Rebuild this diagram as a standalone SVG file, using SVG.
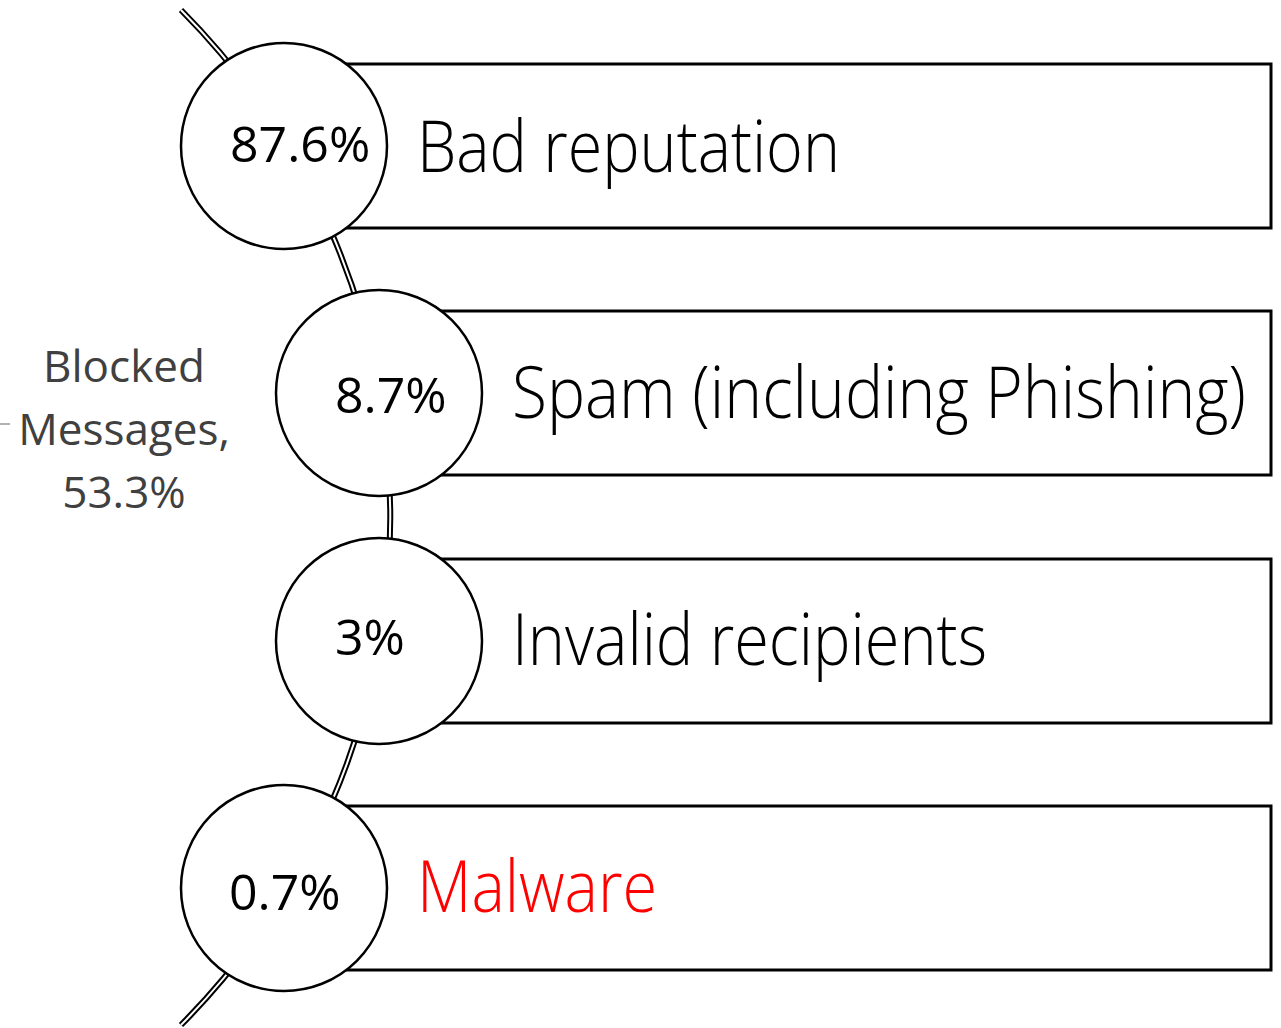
<svg xmlns="http://www.w3.org/2000/svg" width="1281" height="1028" viewBox="0 0 1281 1028">
<style>
.bar{fill:#fff;stroke:#000;stroke-width:3}
.node{fill:#fff;stroke:#000;stroke-width:2.5}
.pct{font-family:"Open Sans","Noto Sans",sans-serif;font-size:50px;fill:#000}
.lbl{font-family:"Open Sans","Noto Sans",sans-serif;font-size:72px;font-weight:300;fill:#000}
.side{font-family:"Open Sans","Noto Sans",sans-serif;font-size:44px;fill:#404040;text-anchor:middle}
</style>
<rect width="1281" height="1028" fill="#fff"/>
<g id="connectors">
<path d="M181,10 A720,720 0 0 1 181,1025" fill="none" stroke="#000" stroke-width="6"/>
<path d="M181,10 A720,720 0 0 1 181,1025" fill="none" stroke="#fff" stroke-width="2"/>
<line x1="0" y1="424" x2="10" y2="424" stroke="#999" stroke-width="1.5"/>
</g>
<g id="side-label">
<text class="side" x="124" y="382">Blocked</text>
<text class="side" x="124" y="445">Messages,</text>
<text class="side" x="124" y="508">53.3%</text>
</g>
<g id="node-bad-reputation">
<rect class="bar" x="284" y="64" width="987" height="164"/>
<circle class="node" cx="284" cy="146" r="103"/>
<text class="pct" x="230" y="162">87.6%</text>
<text class="lbl" x="417" y="172" textLength="423" lengthAdjust="spacingAndGlyphs">Bad reputation</text>
</g>
<g id="node-spam">
<rect class="bar" x="379" y="311" width="892" height="164"/>
<circle class="node" cx="379" cy="393" r="103"/>
<text class="pct" x="335" y="413">8.7%</text>
<text class="lbl" x="512" y="418" textLength="734" lengthAdjust="spacingAndGlyphs">Spam (including Phishing)</text>
</g>
<g id="node-invalid">
<rect class="bar" x="379" y="559" width="892" height="164"/>
<circle class="node" cx="379" cy="641" r="103"/>
<text class="pct" x="335" y="655">3%</text>
<text class="lbl" x="512" y="665" textLength="475" lengthAdjust="spacingAndGlyphs">Invalid recipients</text>
</g>
<g id="node-malware">
<rect class="bar" x="284" y="806" width="987" height="164"/>
<circle class="node" cx="284" cy="888" r="103"/>
<text class="pct" x="229" y="910">0.7%</text>
<text class="lbl" x="417" y="912" textLength="240" lengthAdjust="spacingAndGlyphs" style="fill:#ff0000">Malware</text>
</g>
</svg>
